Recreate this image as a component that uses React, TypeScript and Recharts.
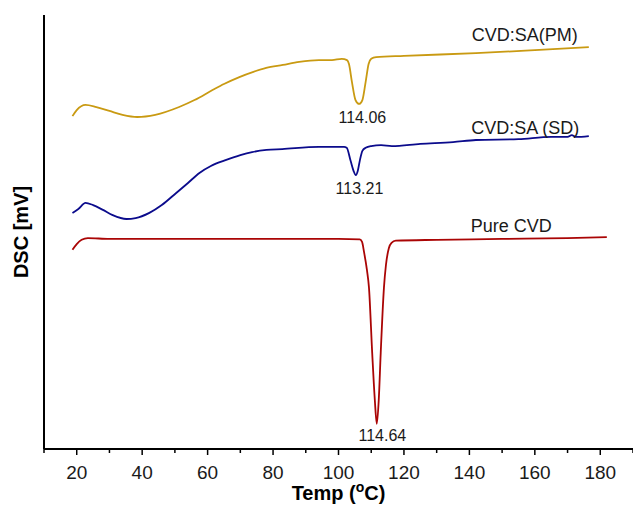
import React from 'react';
import { LineChart, Line, XAxis, YAxis, ReferenceDot, Label } from 'recharts';

// Temperature (°C) and DSC signal (mV, arbitrary offset)
const pmTemp = [18.7, 20, 22.7, 26, 30, 34, 38.5, 44, 51.3, 56, 61.5, 65, 69.7, 74, 77.9, 83, 88, 94, 98, 101, 102.6, 103.2, 104.1, 105.2, 106.3, 107.3, 108.3, 109.2, 110, 111.5, 120, 142, 160, 176.5];
const pmDsc = [7.67, 7.81, 7.93, 7.88, 7.79, 7.7, 7.65, 7.7, 7.88, 8.04, 8.27, 8.41, 8.57, 8.69, 8.78, 8.85, 8.92, 8.96, 8.96, 8.99, 8.96, 8.87, 8.46, 8.04, 7.95, 8.04, 8.46, 8.87, 8.99, 9.03, 9.06, 9.12, 9.19, 9.26];

const sdTemp = [18.7, 20.5, 22.7, 25, 28, 31, 35.2, 38, 42.2, 46, 50.4, 54, 57.5, 61, 65.7, 70, 73.6, 78, 82.8, 94, 101.7, 102.5, 103.7, 104.6, 105.3, 105.9, 106.5, 107.3, 108.3, 110, 113, 116.3, 125, 135, 142, 155, 165, 170, 171.3, 172.5, 176.5];
const sdDsc = [5.44, 5.53, 5.67, 5.62, 5.51, 5.39, 5.3, 5.32, 5.44, 5.62, 5.9, 6.13, 6.36, 6.52, 6.66, 6.77, 6.84, 6.89, 6.91, 6.96, 6.96, 6.94, 6.64, 6.41, 6.31, 6.41, 6.64, 6.87, 6.94, 6.98, 7.0, 6.98, 7.03, 7.07, 7.12, 7.14, 7.19, 7.19, 7.23, 7.19, 7.21];

const pureTemp = [18.7, 20, 21.5, 23.4, 30, 40, 60, 80, 100, 106.5, 107.2, 107.8, 108.7, 109.3, 110.3, 111.1, 111.7, 112.3, 112.9, 113.9, 114.5, 115.4, 116.2, 117.5, 130, 150, 170, 182];
const pureDsc = [4.59, 4.72, 4.82, 4.86, 4.84, 4.84, 4.84, 4.84, 4.84, 4.83, 4.77, 4.54, 4.12, 3.73, 2.21, 1.13, 0.58, 1.13, 2.21, 3.73, 4.24, 4.63, 4.75, 4.8, 4.82, 4.84, 4.86, 4.88];

const xTicks = [10, 20, 30, 40, 50, 60, 70, 80, 90, 100, 110, 120, 130, 140, 150, 160, 170, 180, 190];

const seriesLabels = ['CVD:SA(PM)', 'CVD:SA (SD)', 'Pure CVD'];
const seriesLabelT = [156.9, 157.1, 152.8];
const seriesLabelV = [9.54, 7.4, 5.14];

const peakLabels = ['114.06', '113.21', '114.64'];
const peakLabelT = [107.3, 106.4, 113.4];
const peakLabelV = [7.65, 6.01, 0.32];

const colors = ['#C99A12', '#0B0B8C', '#AA0505'];

const FONT = 'Liberation Sans, Arial, Helvetica, sans-serif';

const toRows = (t: number[], v: number[]) => t.map((x, i) => ({ t: x, v: v[i] }));
const pmData = toRows(pmTemp, pmDsc);
const sdData = toRows(sdTemp, sdDsc);
const pureData = toRows(pureTemp, pureDsc);

const Tick = (props: any) => {
  const { x, y, payload } = props;
  const major = payload.value % 20 === 0 && payload.value !== 190;
  return (
    <g>
      <line x1={x} x2={x} y1={y} y2={y + (major ? 6 : 4)} stroke="#000" strokeWidth={1.5} />
      {major && (
        <text x={x} y={y + 30} textAnchor="middle" fontSize={19} fill="#1a1a1a" fontFamily={FONT}>
          {payload.value}
        </text>
      )}
    </g>
  );
};

const XTitle = (props: any) => {
  const vb = props.viewBox || { x: 44, y: 449, width: 589, height: 56 };
  const cx = vb.x + vb.width / 2;
  return (
    <text x={cx} y={vb.y + 51} textAnchor="middle" fontSize={20} fontWeight="bold" fill="#000" fontFamily={FONT}>
      Temp (<tspan fontSize={14} dy={-8}>o</tspan><tspan dy={8}>C)</tspan>
    </text>
  );
};

const YTitle = (props: any) => {
  const vb = props.viewBox || { x: 0, y: 15, width: 44, height: 434 };
  const cy = vb.y + vb.height / 2;
  const cx = 28;
  return (
    <text x={cx} y={cy} transform={`rotate(-90, ${cx}, ${cy})`} textAnchor="middle" fontSize={20} fontWeight="bold" fill="#000" fontFamily={FONT}>
      DSC [mV]
    </text>
  );
};

export default function App() {
  return (
    <div style={{ position: 'absolute', left: 0, top: 0, width: 633, height: 505, background: '#fff' }}>
      <LineChart width={633} height={505} margin={{ top: 15, right: 0, left: 0, bottom: 0 }}>
        <XAxis
          type="number"
          dataKey="t"
          domain={[10, 190]}
          ticks={xTicks}
          interval={0}
          tickSize={0}
          tickMargin={0}
          tickLine={false}
          tick={<Tick />}
          height={56}
          axisLine={{ stroke: '#000', strokeWidth: 2 }}
          allowDataOverflow
          label={<XTitle />}
        />
        <YAxis
          type="number"
          domain={[0, 10]}
          width={44}
          tick={false}
          tickLine={false}
          axisLine={{ stroke: '#000', strokeWidth: 2 }}
          allowDataOverflow
          label={<YTitle />}
        />
        <Line data={pmData} dataKey="v" type="monotone" stroke={colors[0]} strokeWidth={1.8} dot={false} isAnimationActive={false} />
        <Line data={sdData} dataKey="v" type="monotone" stroke={colors[1]} strokeWidth={1.8} dot={false} isAnimationActive={false} />
        <Line data={pureData} dataKey="v" type="monotone" stroke={colors[2]} strokeWidth={1.8} dot={false} isAnimationActive={false} />
        {seriesLabels.map((s, i) => (
          <ReferenceDot key={s} x={seriesLabelT[i]} y={seriesLabelV[i]} r={0} fill="none" stroke="none" ifOverflow="visible">
            <Label value={s} position="center" fontSize={18} fill="#1a1a1a" fontFamily={FONT} />
          </ReferenceDot>
        ))}
        {peakLabels.map((s, i) => (
          <ReferenceDot key={s} x={peakLabelT[i]} y={peakLabelV[i]} r={0} fill="none" stroke="none" ifOverflow="visible">
            <Label value={s} position="center" fontSize={16} fill="#1a1a1a" fontFamily={FONT} />
          </ReferenceDot>
        ))}
      </LineChart>
    </div>
  );
}
